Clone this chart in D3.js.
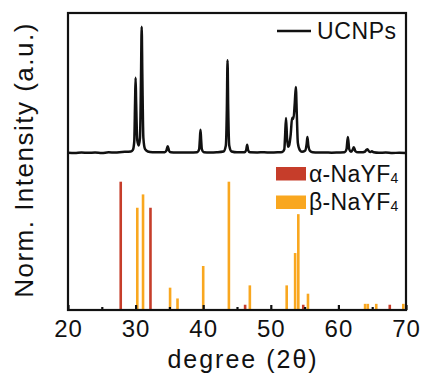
<!DOCTYPE html>
<html>
<head>
<meta charset="utf-8">
<script src="https://cdn.jsdelivr.net/npm/d3@7"></script>
<style>
  html, body { margin: 0; padding: 0; background: #fff; }
  svg { display: block; font-family: "Liberation Sans", Arial, sans-serif; }
</style>
</head>
<body>
<svg id="chart" width="427" height="377"></svg>
<script>
// Measured XRD pattern of the UCNPs (2θ in degrees, normalised intensity 0–100)
const ucnpDeg = [
  20, 21, 22, 23, 24, 25, 26, 27, 28, 28.8, 29.3, 29.6, 29.8, 29.92, 30.0, 30.08, 30.25, 30.45, 30.65, 30.8, 30.9, 31.0, 31.15, 31.4, 31.8,
  32.5, 33.5, 34.3, 34.55, 34.75, 34.95, 35.2, 36, 37, 38, 39.1, 39.4, 39.5, 39.6, 39.7, 39.8, 40.1,
  41, 42, 43.0, 43.35, 43.5, 43.6, 43.7, 43.85, 44.2, 45, 46.1, 46.35, 46.5, 46.65, 46.9,
  48, 49, 50, 51, 51.7, 52.0, 52.1, 52.25, 52.4, 52.55, 52.7, 52.95, 53.15, 53.35, 53.55, 53.7, 53.85, 54.0, 54.3, 54.6,
  55.1, 55.3, 55.42, 55.55, 55.8, 56.2, 57, 58, 59, 60, 60.9, 61.2, 61.4, 61.6, 61.85, 62.1, 62.28, 62.5, 62.9,
  63.4, 63.9, 64.15, 64.3, 64.5, 64.75, 64.95, 65.2, 66, 67, 68, 69, 70
];
const ucnpInt = [
  0.3, 0.0, 0.4, 0.1, 0.3, 0.0, 0.5, 0.3, 0.8, 1.0, 1.2, 2.5, 9, 40, 59.5, 40, 10, 6, 12, 60, 100, 60, 12, 3, 1.2,
  0.6, 0.5, 0.6, 1.8, 5.4, 1.8, 0.5, 0.3, 0.4, 0.3, 0.6, 3, 10, 18.4, 10, 3, 0.6,
  0.4, 0.6, 1.2, 6, 35, 73.5, 35, 6, 1.2, 0.5, 0.6, 2.2, 6.5, 2.2, 0.5,
  0.4, 0.6, 0.3, 0.5, 0.8, 3, 12, 27.7, 12, 5, 6, 15, 28, 27, 40, 52.3, 30, 8, 2.2, 1,
  2, 7, 12.6, 6, 1.6, 0.5, 0.3, 0.4, 0.2, 0.4, 0.6, 3, 12.6, 3, 1, 2.5, 4.6, 1.5, 0.5,
  0.5, 1, 2.5, 3, 1.5, 0.8, 1.4, 0.6, 0.2, 0.3, 0.0, 0.2, 0.0
];

// Reference reflections (2θ in degrees, relative intensity 0–100)
const alphaDeg = [27.8, 32.2, 46.2, 54.8, 67.6];
const alphaInt = [100, 79.7, 4.1, 4.1, 4.1];
const betaDeg  = [30.25, 31.1, 35.1, 36.2, 40.0, 43.8, 46.9, 52.35, 53.6, 54.07, 55.5, 63.95, 64.35, 65.6, 69.6];
const betaInt  = [79.7, 90.1, 17.4, 9.0, 34.3, 100, 19.2, 19.2, 44.4, 74.7, 12.7, 4.8, 4.8, 4.8, 4.8];

const xTicks = [20, 30, 40, 50, 60, 70];
const xMinorTicks = [25, 35, 45, 55, 65];

const colors = { ucnp: "#111111", alpha: "#c63d2a", beta: "#f9a71f" };

const svg = d3.select("#chart");
const plotL = 68, plotR = 406, plotT = 13, plotB = 310;

const x = d3.scaleLinear().domain([20, 70]).range([plotL, plotR]);
const yCurve = d3.scaleLinear().domain([0, 100]).range([153, 26.7]);
const yBars = d3.scaleLinear().domain([0, 100]).range([plotB, 181.7]);

svg.append("defs").append("clipPath").attr("id", "plot-clip")
  .append("rect").attr("x", plotL).attr("y", plotT).attr("width", plotR - plotL).attr("height", plotB - plotT);

const plot = svg.append("g").attr("clip-path", "url(#plot-clip)");

// reference bars
const barW = 2.6;
const bars = [
  ...alphaDeg.map((d, i) => ({ deg: d, v: alphaInt[i], c: colors.alpha })),
  ...betaDeg.map((d, i) => ({ deg: d, v: betaInt[i], c: colors.beta }))
];
plot.selectAll("rect.bar").data(bars).join("rect")
  .attr("class", "bar")
  .attr("x", d => x(d.deg) - barW / 2)
  .attr("y", d => yBars(d.v))
  .attr("width", barW)
  .attr("height", d => yBars(0) - yBars(d.v))
  .attr("fill", d => d.c);

// measured pattern
const line = d3.line()
  .x(d => x(d[0]))
  .y(d => yCurve(d[1]))
  .curve(d3.curveMonotoneX);
plot.append("path")
  .datum(d3.zip(ucnpDeg, ucnpInt))
  .attr("d", line)
  .attr("fill", "none")
  .attr("stroke", colors.ucnp)
  .attr("stroke-width", 2.5)
  .attr("stroke-linejoin", "round");

// bottom axis with inward ticks
const axisG = svg.append("g").attr("transform", `translate(0,${plotB})`);
axisG.append("g").call(d3.axisBottom(x).tickValues(xMinorTicks).tickSize(-3).tickFormat(""))
  .call(g => g.select(".domain").remove());
axisG.append("g").call(d3.axisBottom(x).tickValues(xTicks).tickSize(-5).tickPadding(10).tickFormat(d3.format("d")))
  .call(g => g.select(".domain").remove())
  .call(g => g.selectAll("text")
    .attr("font-size", 24)
    .attr("fill", "#111")
    .attr("letter-spacing", 1)
    .attr("font-family", "'Liberation Sans', Arial, sans-serif"));
axisG.selectAll(".tick line").attr("stroke", "#111").attr("stroke-width", 2.2);

// frame
svg.append("rect")
  .attr("x", plotL).attr("y", plotT)
  .attr("width", plotR - plotL).attr("height", plotB - plotT)
  .attr("fill", "none").attr("stroke", "#111").attr("stroke-width", 2.2);

// axis titles
svg.append("text")
  .attr("x", 243).attr("y", 368)
  .attr("text-anchor", "middle")
  .attr("font-size", 25)
  .attr("letter-spacing", 2)
  .attr("fill", "#111")
  .text("degree (2θ)");

svg.append("text")
  .attr("transform", "translate(33,160) rotate(-90)")
  .attr("text-anchor", "middle")
  .attr("font-size", 26)
  .attr("letter-spacing", 1.5)
  .attr("fill", "#111")
  .text("Norm. Intensity (a.u.)");

// legend
const lg = svg.append("g");
lg.append("line").attr("x1", 277).attr("x2", 311).attr("y1", 31).attr("y2", 31)
  .attr("stroke", colors.ucnp).attr("stroke-width", 2.4);
lg.append("text").attr("x", 317).attr("y", 39).attr("font-size", 23).attr("letter-spacing", 0.6)
  .attr("fill", "#111").text("UCNPs");

const entries = [
  { label: "α-NaYF", color: colors.alpha, y: 167 },
  { label: "β-NaYF", color: colors.beta, y: 195.5 }
];
entries.forEach(e => {
  lg.append("rect").attr("x", 276).attr("y", e.y).attr("width", 30).attr("height", 13.5).attr("fill", e.color);
  const t = lg.append("text").attr("x", 309).attr("y", e.y + 14.5).attr("font-size", 23)
    .attr("letter-spacing", 0.3).attr("fill", "#111");
  t.append("tspan").text(e.label);
  t.append("tspan").attr("font-size", 14).attr("dy", 1).text("4");
});
</script>
</body>
</html>
